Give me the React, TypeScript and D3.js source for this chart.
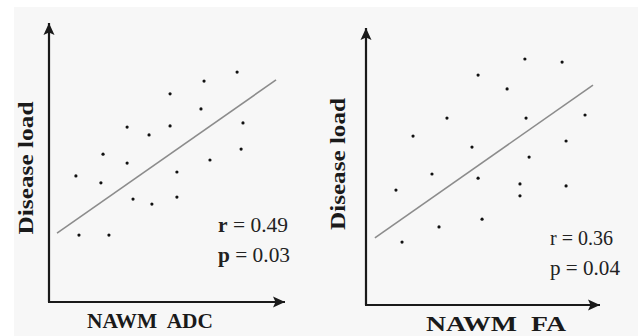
import { useEffect, useRef } from 'react'
import * as d3 from 'd3'

// NAWM ADC vs disease load (arbitrary 0-100 units)
const adcX = [79.7, 65.7, 51.3, 64.4, 33.1, 42.4, 51.3, 82.2, 22.9, 33.1, 81.4, 68.2, 11.4, 22.0, 54.2, 35.6, 43.6, 54.2, 12.7, 25.4]
const adcY = [82.4, 79.2, 74.6, 69.2, 62.7, 59.9, 63.1, 64.2, 53.0, 49.8, 54.8, 50.9, 45.2, 42.7, 46.6, 36.9, 35.1, 37.6, 24.0, 24.0]
const adcFitX = [3.4, 96.2]
const adcFitY = [24.7, 79.6]

// NAWM FA vs disease load
const faX = [67.9, 83.8, 47.9, 60.3, 34.6, 68.4, 93.6, 20.1, 85.5, 45.3, 69.7, 28.2, 47.9, 65.8, 65.8, 85.5, 12.8, 49.6, 31.2, 15.4]
const faY = [88.8, 87.7, 83.0, 78.0, 67.5, 67.5, 68.6, 61.0, 59.2, 57.0, 53.4, 47.3, 45.8, 43.7, 39.4, 43.0, 41.5, 31.0, 28.2, 22.7]
const faFitX = [3.8, 97.0]
const faFitY = [24.2, 79.4]

const xLabels = ['NAWM  ADC', 'NAWM  FA']
const yLabel = 'Disease load'
const rValues = ['0.49', '0.36']
const pValues = ['0.03', '0.04']

const panels = [
  {
    xs: adcX, ys: adcY, fitX: adcFitX, fitY: adcFitY,
    xLabel: xLabels[0], r: rValues[0], p: pValues[0], boldStat: true,
    x0: 49, x1: 285, y0: 302, y1: 23,
    yLab: { x: 33, y: 168, len: 133 },
    xLab: { x: 150, y: 328, len: 126, size: 22 },
    stat: { x: 218, y: 232, dy: 30, lens: [70, 72] }
  },
  {
    xs: faX, ys: faY, fitX: faFitX, fitY: faFitY,
    xLabel: xLabels[1], r: rValues[1], p: pValues[1], boldStat: false,
    x0: 366, x1: 600, y0: 305, y1: 28,
    yLab: { x: 345, y: 164, len: 132 },
    xLab: { x: 496, y: 331, len: 140, size: 22 },
    stat: { x: 550, y: 245, dy: 30, lens: [63, 70] }
  }
]

export default function App() {
  const svgRef = useRef<SVGSVGElement>(null)

  useEffect(() => {
    if (!svgRef.current) return
    const svg = d3.select(svgRef.current)
    svg.selectAll('*').remove()

    const ink = '#1a1a1a'
    const serif = '"Liberation Serif", "Times New Roman", serif'

    svg.append('rect')
      .attr('x', 14).attr('y', 7)
      .attr('width', 638 - 14).attr('height', 336 - 7)
      .attr('fill', '#f7f7f7')

    svg.append('defs').append('marker')
      .attr('id', 'arrow')
      .attr('markerUnits', 'userSpaceOnUse')
      .attr('markerWidth', 13).attr('markerHeight', 12)
      .attr('refX', 12).attr('refY', 6)
      .attr('orient', 'auto')
      .append('path')
      .attr('d', 'M0,0.5 L12,6 L0,11.5 L2.5,6 Z')
      .attr('fill', ink)

    panels.forEach(pn => {
      const x = d3.scaleLinear().domain([0, 100]).range([pn.x0, pn.x1])
      const y = d3.scaleLinear().domain([0, 100]).range([pn.y0, pn.y1])
      const g = svg.append('g')

      // axes with arrow heads
      g.append('line')
        .attr('x1', x(0)).attr('y1', y(0)).attr('x2', x(0)).attr('y2', y(100))
        .attr('stroke', ink).attr('stroke-width', 2.2)
        .attr('marker-end', 'url(#arrow)')
      g.append('line')
        .attr('x1', x(0) - 1).attr('y1', y(0)).attr('x2', x(100)).attr('y2', y(0))
        .attr('stroke', ink).attr('stroke-width', 2.2)
        .attr('marker-end', 'url(#arrow)')

      // regression line
      const line = d3.line<number>()
        .x((_, i) => x(pn.fitX[i]))
        .y(d => y(d))
      g.append('path')
        .attr('d', line(pn.fitY))
        .attr('fill', 'none')
        .attr('stroke', '#8c8c8c')
        .attr('stroke-width', 1.6)

      // points
      g.selectAll('.dot')
        .data(pn.xs)
        .enter().append('circle')
        .attr('cx', d => x(d))
        .attr('cy', (_, i) => y(pn.ys[i]))
        .attr('r', 1.6)
        .attr('fill', '#111')

      // labels
      g.append('text')
        .attr('transform', `translate(${pn.yLab.x},${pn.yLab.y}) rotate(-90)`)
        .attr('text-anchor', 'middle')
        .attr('textLength', pn.yLab.len)
        .attr('lengthAdjust', 'spacingAndGlyphs')
        .style('font-family', serif)
        .style('font-weight', 'bold')
        .style('font-size', '21px')
        .style('fill', ink)
        .text(yLabel)

      g.append('text')
        .attr('x', pn.xLab.x).attr('y', pn.xLab.y)
        .attr('text-anchor', 'middle')
        .attr('textLength', pn.xLab.len)
        .attr('lengthAdjust', 'spacingAndGlyphs')
        .style('white-space', 'pre')
        .style('font-family', serif)
        .style('font-weight', 'bold')
        .style('font-size', `${pn.xLab.size}px`)
        .style('fill', ink)
        .text(pn.xLabel)

      const stats = [['r', pn.r], ['p', pn.p]]
      stats.forEach(([k, v], i) => {
        const t = g.append('text')
          .attr('x', pn.stat.x).attr('y', pn.stat.y + i * pn.stat.dy)
          .attr('textLength', pn.stat.lens[i])
          .attr('lengthAdjust', 'spacingAndGlyphs')
          .style('font-family', serif)
          .style('font-size', '22px')
          .style('fill', '#222')
        t.append('tspan')
          .style('font-weight', pn.boldStat ? 'bold' : 'normal')
          .text(k)
        t.append('tspan').text(` = ${v}`)
      })
    })
  }, [])

  return (
    <svg
      ref={svgRef}
      width={638}
      height={336}
      style={{ position: 'absolute', left: 0, top: 0, background: '#fff' }}
    />
  )
}
